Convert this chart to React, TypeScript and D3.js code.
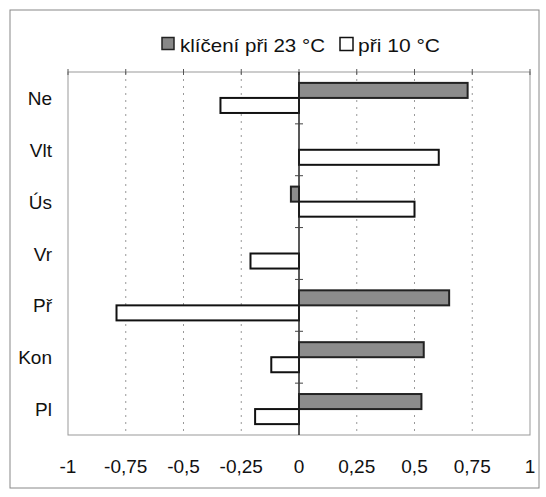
import React from "react";
import * as d3 from "d3";

const categories = ["Ne", "Vlt", "Ús", "Vr", "Př", "Kon", "Pl"];
const values23 = [0.73, 0, -0.035, 0, 0.65, 0.54, 0.53];
const values10 = [-0.34, 0.605, 0.5, -0.21, -0.79, -0.12, -0.19];
const seriesNames = ["klíčení při 23 °C", "při 10 °C"];
const xTicks = [-1, -0.75, -0.5, -0.25, 0, 0.25, 0.5, 0.75, 1];

const W = 546;
const H = 497;
const left = 68;
const right = 530;
const top = 72;
const bottom = 435;
const font = "'Liberation Sans', Arial, sans-serif";

export default function App() {
  const x = d3.scaleLinear().domain([-1, 1]).range([left, right]);
  const y = d3.scaleBand().domain(categories).range([top, bottom]).paddingInner(0.42).paddingOuter(0.21);
  const bh = y.bandwidth() / 2;
  const fmt = (v: number) => String(v).replace(".", ",");
  const x0 = x(0);
  const band = (bottom - top) / categories.length;

  return (
    <svg width={W} height={H} style={{ position: "absolute", left: 0, top: 0 }} fontFamily={font}>
      <rect x={0} y={0} width={W} height={H} fill="#fff" />
      <rect x={10} y={10} width={529} height={478} fill="none" stroke="#888" strokeWidth={1} />
      {/* legend */}
      <rect x={162} y={37.5} width={12} height={12} fill="#888" stroke="#222" strokeWidth={1.5} />
      <text x={180} y={51.5} fontSize={19} fill="#111" textLength={145} lengthAdjust="spacingAndGlyphs">{seriesNames[0]}</text>
      <rect x={340} y={37.5} width={13} height={13} fill="#fff" stroke="#111" strokeWidth={1.5} />
      <text x={358} y={51.5} fontSize={19} fill="#111" textLength={82} lengthAdjust="spacingAndGlyphs">{seriesNames[1]}</text>
      {/* plot frame */}
      <rect x={left} y={top} width={right - left} height={bottom - top} fill="none" stroke="#999" strokeWidth={1} />
      {xTicks.filter((t) => t !== 0 && Math.abs(t) !== 1).map((t) => (
        <line key={"g" + t} x1={x(t)} x2={x(t)} y1={top} y2={bottom} stroke="#999" strokeDasharray="2,5" strokeWidth={1} />
      ))}
      {xTicks.map((t) => (
        <line key={"tt" + t} x1={x(t)} x2={x(t)} y1={top - 3} y2={top + 3} stroke="#555" strokeWidth={1} />
      ))}
      {categories.map((c, i) => (
        <g key={c}>
          <rect
            x={Math.min(x(values23[i]), x0)}
            y={y(c)!}
            width={Math.abs(x(values23[i]) - x0)}
            height={bh}
            fill="#8c8c8c"
            stroke="#222"
            strokeWidth={values23[i] === 0 ? 0 : 2}
          />
          <rect
            x={Math.min(x(values10[i]), x0)}
            y={y(c)! + bh}
            width={Math.abs(x(values10[i]) - x0)}
            height={bh}
            fill="#fff"
            stroke="#111"
            strokeWidth={2}
          />
          <text x={52} y={y(c)! + bh + 7} fontSize={19} textAnchor="end" fill="#111">{c}</text>
        </g>
      ))}
      <line x1={x0} x2={x0} y1={top} y2={bottom} stroke="#222" strokeWidth={1.5} />
      {d3.range(1, categories.length).map((i) => (
        <line key={"ct" + i} x1={x0 - 4} x2={x0 + 4} y1={top + band * i} y2={top + band * i} stroke="#444" strokeWidth={1} />
      ))}
      {xTicks.map((t) => (
        <text key={"l" + t} x={x(t)} y={473} fontSize={19} textAnchor="middle" fill="#111">{fmt(t)}</text>
      ))}
    </svg>
  );
}
